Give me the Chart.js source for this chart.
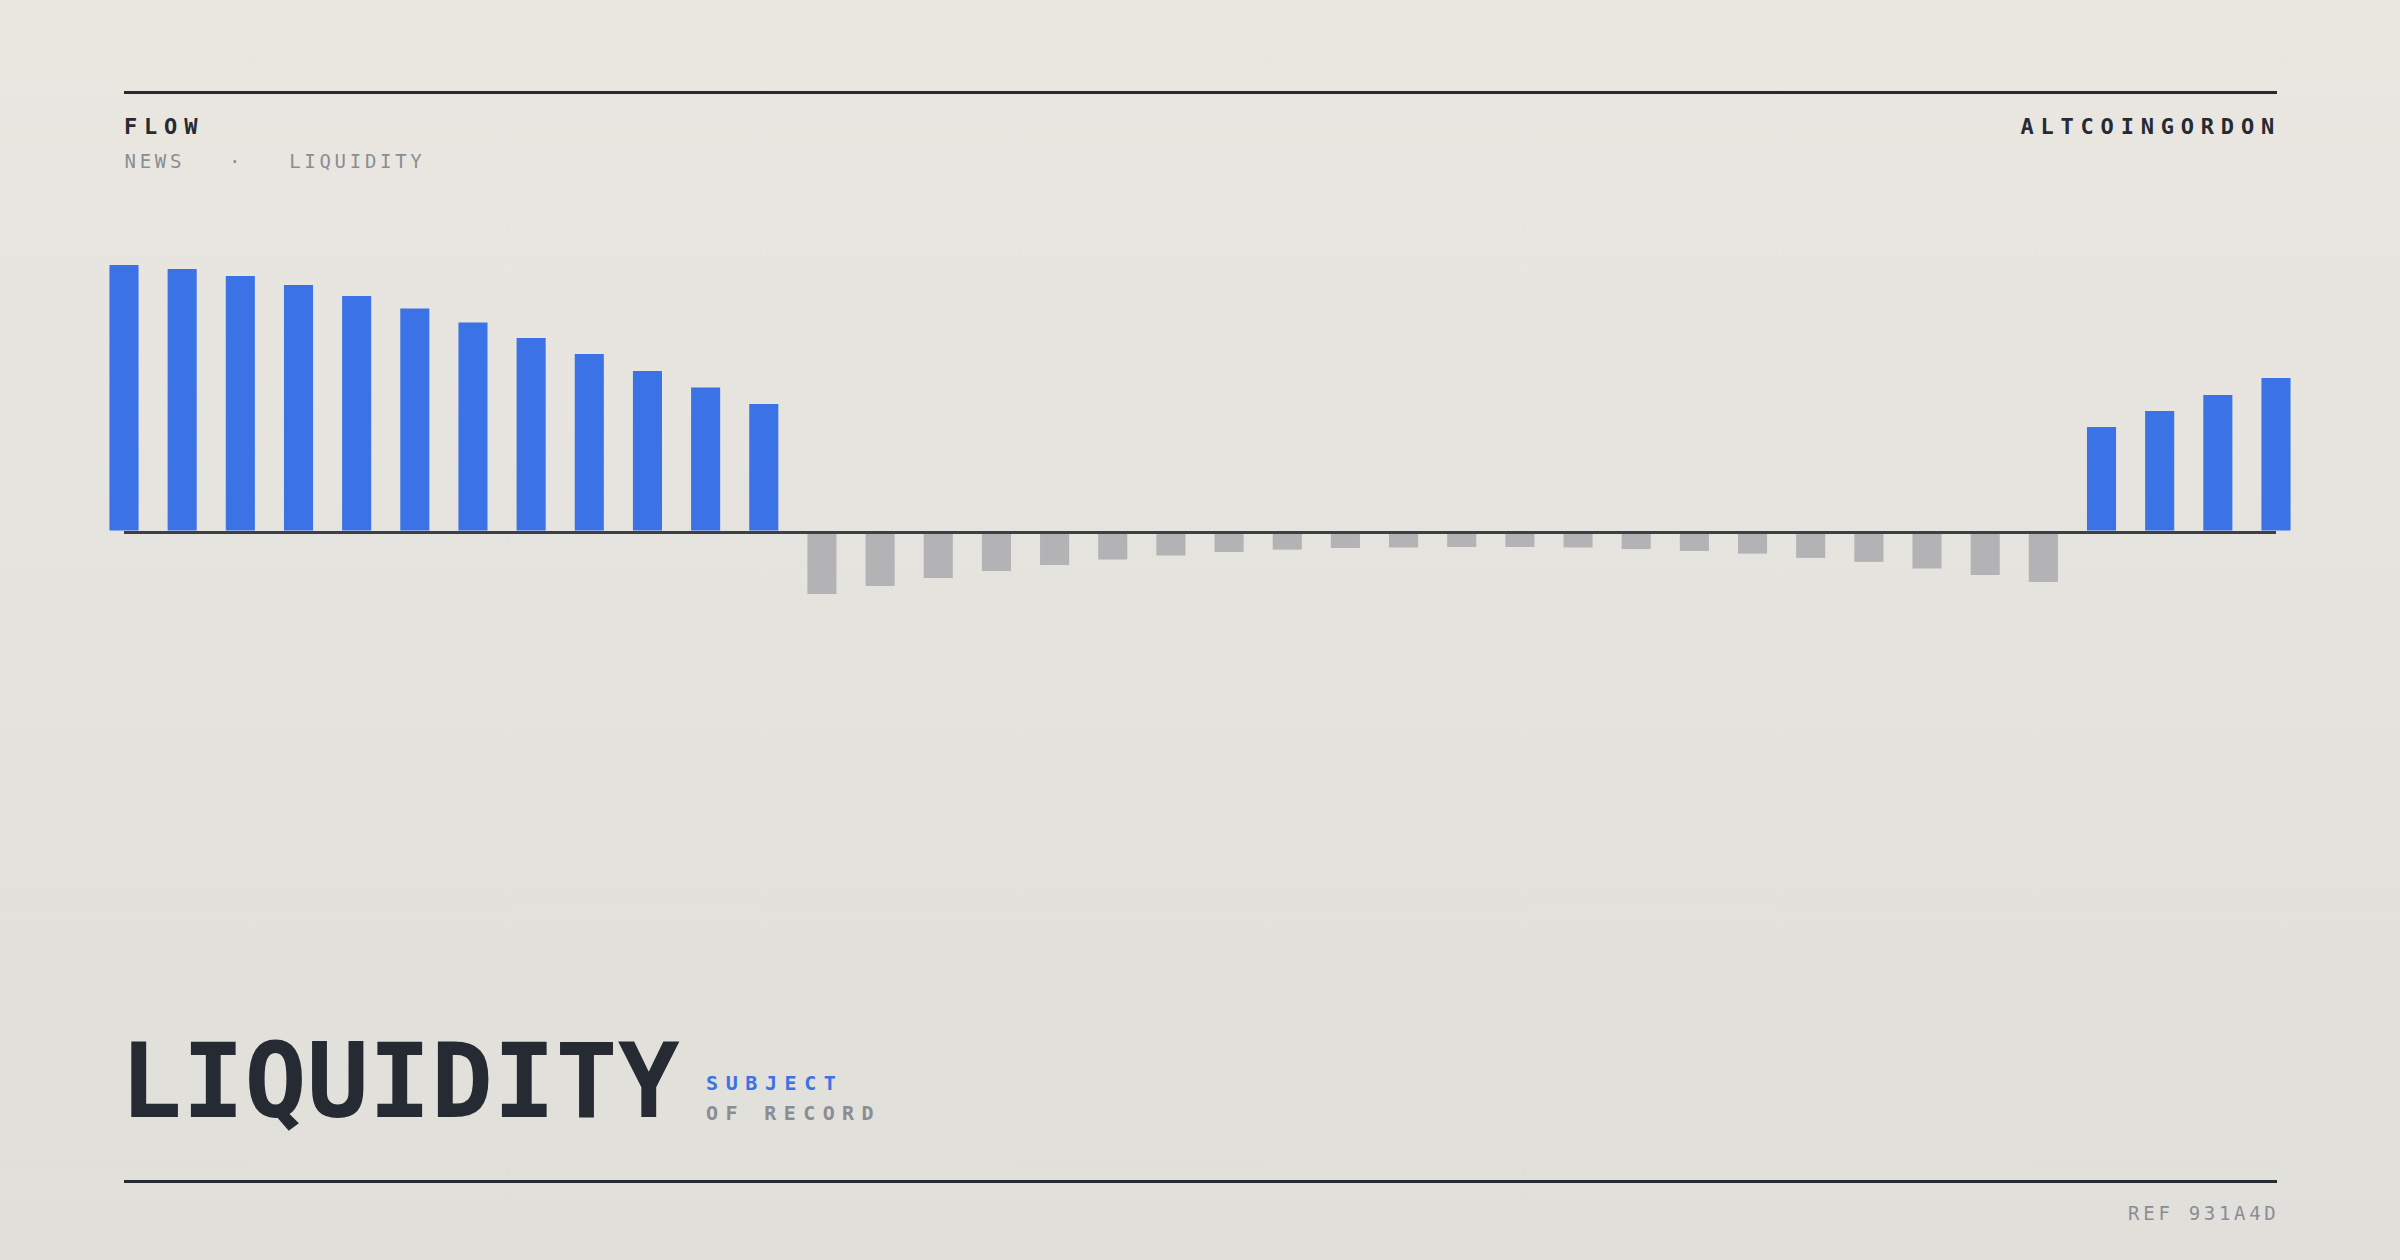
<!DOCTYPE html>
<html>
<head>
<meta charset="utf-8">
<script src="https://cdn.jsdelivr.net/npm/chart.js@4.4.1/dist/chart.umd.min.js"></script>
<style>
  html, body { margin: 0; padding: 0; }
  body {
    width: 2400px; height: 1260px; position: relative; overflow: hidden;
    background: linear-gradient(180deg, #eae7e1 0%, #e5e3de 50%, #e0dfda 100%);
    font-family: "DejaVu Sans Mono", "Liberation Mono", monospace;
  }
  .rule { position: absolute; left: 124px; width: 2153px; height: 3px; background: #262a33; }
  .t { position: absolute; line-height: 1; white-space: nowrap; }
  #flow { left: 124px; top: 115.5px; font-size: 22px; font-weight: bold; letter-spacing: 6.8px; color: #262a33; }
  #brand { right: 119px; top: 115.5px; font-size: 22px; font-weight: bold; letter-spacing: 6.8px; color: #262a33; }
  #crumbs { left: 124.5px; top: 151.5px; font-size: 19px; letter-spacing: 3.7px; color: #8b8d94; }
  #crumbs .dot { margin-left: 44px; margin-right: 45px; }
  #title { left: 120px; top: 1030px; font-size: 103px; font-weight: bold; letter-spacing: 0.2px; color: #262a33; }
  #subj { left: 706px; top: 1072.7px; font-size: 20px; font-weight: bold; letter-spacing: 7.6px; color: #3b72e6; }
  #rec { left: 706px; top: 1102.5px; font-size: 20px; font-weight: bold; letter-spacing: 7.4px; color: #8b8d94; }
  #ref { right: 120.5px; top: 1203.8px; font-size: 19px; letter-spacing: 3.7px; color: #8b8d94; }
  #wrap { position: absolute; left: 0; top: 200px; width: 2400px; height: 700px; }
</style>
</head>
<body>
<div class="rule" style="top:90.5px"></div>
<div class="t" id="flow">FLOW</div>
<div class="t" id="brand">ALTCOINGORDON</div>
<div class="t" id="crumbs"><span>NEWS</span><span class="dot">·</span><span>LIQUIDITY</span></div>

<div id="wrap"><canvas id="c"></canvas></div>

<div class="t" id="title">LIQUIDITY</div>
<div class="t" id="subj">SUBJECT</div>
<div class="t" id="rec">OF RECORD</div>
<div class="rule" style="top:1179.5px"></div>
<div class="t" id="ref">REF 931A4D</div>

<script>
// ---- data ----
const categories = [
  "1","2","3","4","5","6","7","8","9","10","11","12","13","14","15","16","17","18","19",
  "20","21","22","23","24","25","26","27","28","29","30","31","32","33","34","35","36","37","38"
];
const flowValues = [
  100, 98.5, 95.9, 92.5, 88.4, 83.7, 78.5, 72.7, 66.7, 60.3, 54.1, 47.9,
  -23.2, -20.2, -17.2, -14.6, -12.4, -10.3, -8.8, -7.5, -6.6, -6.0, -5.8, -5.6,
  -5.6, -5.8, -6.4, -7.1, -8.1, -9.7, -11.2, -13.7, -16.1, -18.7,
  39.3, 45.3, 51.3, 57.7
];
const yMin = -100;
const yMax = 100;

const BLUE = '#3b72e6';
const GREY = '#b3b3b5';
const barColors = flowValues.map(v => v >= 0 ? BLUE : GREY);

new Chart(document.getElementById('c'), {
  type: 'bar',
  data: {
    labels: categories,
    datasets: [{
      data: flowValues,
      backgroundColor: barColors,
      borderWidth: 0,
      barPercentage: 0.5,
      categoryPercentage: 1.0,
      clip: false
    }]
  },
  options: {
    responsive: true,
    maintainAspectRatio: false,
    animation: false,
    events: [],
    layout: { padding: { left: 124, right: 124, top: 65, bottom: 101 } },
    plugins: { legend: { display: false }, tooltip: { enabled: false } },
    scales: {
      x: {
        type: 'category',
        display: false,
        offset: false,
        grid: { offset: false, display: false }
      },
      y: {
        min: yMin,
        max: yMax,
        display: true,
        border: { display: false },
        ticks: { display: false, stepSize: 100 },
        grid: {
          z: 1,
          drawTicks: false,
          lineWidth: 3,
          color: ctx => (ctx.tick && ctx.tick.value === 0) ? '#3e4047' : 'rgba(0,0,0,0)'
        },
        afterFit: s => { s.width = 0; }
      }
    }
  }
});
</script>
</body>
</html>
